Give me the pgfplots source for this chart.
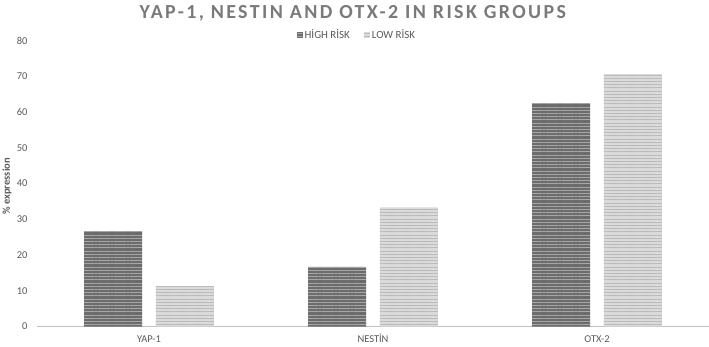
\documentclass[border=0pt]{standalone}
\usepackage{fontspec}
\setmainfont{Carlito}
\newfontfamily\titlefont[LetterSpace=12]{Carlito}
\usepackage{pgfplots}
\pgfplotsset{compat=1.18}
\usetikzlibrary{patterns.meta}
\definecolor{darkbase}{HTML}{6C6C6C}
\definecolor{darkline}{HTML}{A6A6A6}
\definecolor{lightbase}{HTML}{DADADA}
\definecolor{lightline}{HTML}{BABABA}
\definecolor{txt}{HTML}{595959}
\definecolor{ttl}{HTML}{7A7A7A}
\definecolor{axl}{HTML}{BFBFBF}
\begin{document}
\begin{tikzpicture}
\begin{axis}[
  scale only axis, width=672bp, height=286bp,
  xmin=-0.5, xmax=2.5, ymin=0, ymax=80,
  xtick={0,1,2}, xticklabels={YAP-1, NESTİN, OTX-2},
  ytick={0,10,...,80},
  /pgf/number format/assume math mode=true,
  axis x line=bottom, axis y line=left,
  y axis line style={draw=none},
  x axis line style={draw=axl, line width=0.9bp, -},
  major tick length=0pt,
  tick label style={text=txt, font=\fontsize{10.5}{12}\selectfont},
  yticklabel style={xshift=-6bp},
  xticklabel style={yshift=-5bp, text height=7bp, text depth=2bp},
  title={\titlefont YAP-1, NESTIN AND OTX-2 IN RISK GROUPS},
  title style={at={(axis description cs:0.47,1)}, anchor=center, yshift=21.5bp,
    font=\bfseries\fontsize{20}{24}\selectfont, text=ttl},
  ylabel={\% expression},
  ylabel style={at={(axis description cs:0,0.49)}, anchor=center, yshift=30bp,
    font=\bfseries\fontsize{10.5}{12}\selectfont, text=txt},
  legend columns=2,
  legend style={at={(axis description cs:0.476,1)}, anchor=center, yshift=5.5bp,
    draw=none, fill=none, font=\fontsize{11}{13}\selectfont, text=txt,
    /tikz/every even column/.append style={column sep=12bp}},
  legend image code/.code={\fill[#1] (0bp,-2.5bp) rectangle (6bp,3.5bp);},
]
\addplot[ybar, bar width=0.259, bar shift=-0.16, draw=none, fill=darkbase,
  postaction={pattern={Lines[angle=0,distance=3.2bp,line width=0.9bp]}, pattern color=darkline}]
  coordinates {(0,26.7) (1,16.7) (2,62.5)};
\addlegendentry{HİGH RİSK}
\addplot[ybar, bar width=0.259, bar shift=0.16, draw=none, fill=lightbase,
  postaction={pattern={Lines[angle=0,distance=3.2bp,line width=0.9bp]}, pattern color=lightline}]
  coordinates {(0,11.3) (1,33.3) (2,70.6)};
\addlegendentry{LOW RİSK}
\end{axis}
\pgfresetboundingbox
\path (current axis.south west) ++(-37bp,-20.5bp) rectangle ++(709bp,347bp);
\end{tikzpicture}
\end{document}
